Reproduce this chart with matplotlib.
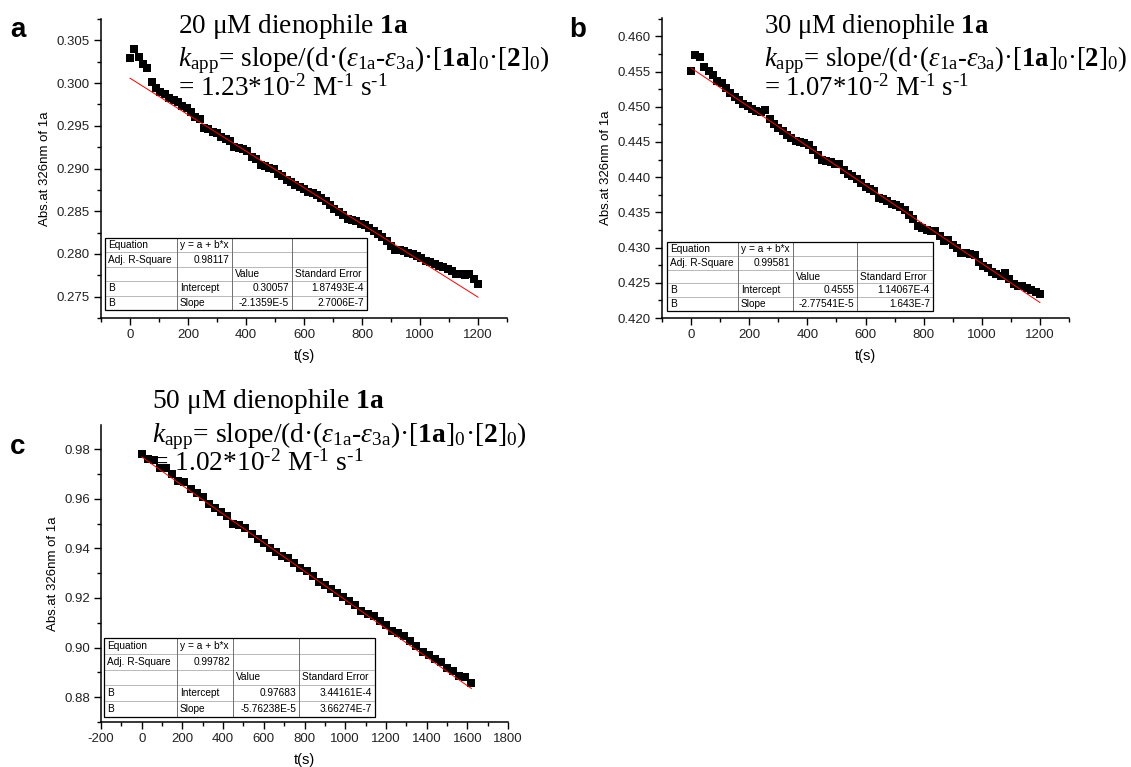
import numpy as np
import matplotlib
matplotlib.use("Agg")
import matplotlib.pyplot as plt
from matplotlib.patches import Rectangle
from matplotlib.ticker import MultipleLocator, FormatStrFormatter

plt.rcParams['font.family'] = ['Liberation Sans', 'DejaVu Sans']
plt.rcParams['axes.unicode_minus'] = False
plt.rcParams['mathtext.fontset'] = 'custom'
plt.rcParams['mathtext.rm'] = 'Liberation Serif'
plt.rcParams['mathtext.it'] = 'Liberation Serif:italic'
plt.rcParams['mathtext.bf'] = 'Liberation Serif:bold'

# ---- data ----
time_a = np.arange(0, 1201, 15)
abs_a = [0.3029, 0.3040, 0.3031, 0.3022, 0.3018, 0.3001, 0.2994, 0.2990, 0.2987, 0.2982,
         0.2980, 0.2978, 0.2973, 0.2971, 0.2966, 0.2960, 0.2958, 0.2947, 0.2946, 0.2943,
         0.2941, 0.2937, 0.2935, 0.2932, 0.2925, 0.2924, 0.2923, 0.2920, 0.2913, 0.2911,
         0.2904, 0.2903, 0.2901, 0.2899, 0.2893, 0.2891, 0.2887, 0.2884, 0.2881, 0.2878,
         0.2876, 0.2873, 0.2871, 0.2869, 0.2866, 0.2862, 0.2857, 0.2853, 0.2849, 0.2846,
         0.2841, 0.2840, 0.2838, 0.2835, 0.2834, 0.2830, 0.2827, 0.2823, 0.2820, 0.2815,
         0.2809, 0.2805, 0.2805, 0.2804, 0.2801, 0.2800, 0.2798, 0.2795, 0.2792, 0.2790,
         0.2788, 0.2786, 0.2785, 0.2782, 0.2780, 0.2777, 0.2776, 0.2775, 0.2777, 0.2771,
         0.2765]

time_b = np.arange(0, 1201, 15)
abs_b = [0.4551, 0.4574, 0.4570, 0.4557, 0.4551, 0.4545, 0.4537, 0.4533, 0.4527, 0.4519,
         0.4514, 0.4510, 0.4504, 0.4501, 0.4497, 0.4494, 0.4493, 0.4495, 0.4483, 0.4476,
         0.4470, 0.4465, 0.4460, 0.4455, 0.4452, 0.4450, 0.4448, 0.4445, 0.4439, 0.4431,
         0.4425, 0.4423, 0.4421, 0.4419, 0.4418, 0.4410, 0.4405, 0.4402, 0.4397, 0.4391,
         0.4386, 0.4383, 0.4380, 0.4370, 0.4369, 0.4366, 0.4362, 0.4360, 0.4358, 0.4353,
         0.4346, 0.4340, 0.4330, 0.4328, 0.4325, 0.4323, 0.4323, 0.4316, 0.4310, 0.4311,
         0.4304, 0.4299, 0.4293, 0.4292, 0.4291, 0.4290, 0.4280, 0.4274, 0.4271, 0.4265,
         0.4262, 0.4259, 0.4264, 0.4255, 0.4248, 0.4246, 0.4245, 0.4242, 0.4240, 0.4237,
         0.4234]

time_c = np.arange(0, 1621, 30)
abs_c = [0.9780, 0.9761, 0.9757, 0.9725, 0.9724, 0.9700, 0.9672, 0.9668, 0.9640, 0.9622,
         0.9605, 0.9580, 0.9562, 0.9547, 0.9531, 0.9500, 0.9494, 0.9480, 0.9458, 0.9436,
         0.9423, 0.9403, 0.9386, 0.9370, 0.9362, 0.9340, 0.9322, 0.9307, 0.9289, 0.9265,
         0.9253, 0.9235, 0.9218, 0.9205, 0.9187, 0.9170, 0.9148, 0.9135, 0.9127, 0.9108,
         0.9090, 0.9065, 0.9060, 0.9045, 0.9025, 0.9005, 0.8983, 0.8970, 0.8955, 0.8940,
         0.8918, 0.8906, 0.8885, 0.8882, 0.8858]

# linear fit results (intercept, slope) from the tables
fit_a = (0.30057, -2.1359e-5)
fit_b = (0.4555, -2.77541e-5)
fit_c = (0.97683, -5.76238e-5)

table_a = [["Equation", "y = a + b*x", "", ""],
           ["Adj. R-Square", "0.98117", "", ""],
           ["", "", "Value", "Standard Error"],
           ["B", "Intercept", "0.30057", "1.87493E-4"],
           ["B", "Slope", "-2.1359E-5", "2.7006E-7"]]
table_b = [["Equation", "y = a + b*x", "", ""],
           ["Adj. R-Square", "0.99581", "", ""],
           ["", "", "Value", "Standard Error"],
           ["B", "Intercept", "0.4555", "1.14067E-4"],
           ["B", "Slope", "-2.77541E-5", "1.643E-7"]]
table_c = [["Equation", "y = a + b*x", "", ""],
           ["Adj. R-Square", "0.99782", "", ""],
           ["", "", "Value", "Standard Error"],
           ["B", "Intercept", "0.97683", "3.44161E-4"],
           ["B", "Slope", "-5.76238E-5", "3.66274E-7"]]
cell_align = [["l", "l", "l", "l"],
              ["l", "r", "l", "l"],
              ["l", "l", "l", "l"],
              ["l", "l", "r", "r"],
              ["l", "l", "r", "r"]]

W, H = 1131, 767
fig = plt.figure(figsize=(W / 100, H / 100), dpi=100)


def add_panel(left, top, right, bottom):
    return fig.add_axes([left / W, 1 - bottom / H, (right - left) / W, (bottom - top) / H])


def style_axes(ax, xlim, ylim, xmaj, ymaj, yfmt):
    ax.set_xlim(*xlim)
    ax.set_ylim(*ylim)
    ax.xaxis.set_major_locator(MultipleLocator(xmaj))
    ax.xaxis.set_minor_locator(MultipleLocator(xmaj / 2))
    ax.yaxis.set_major_locator(MultipleLocator(ymaj))
    ax.yaxis.set_minor_locator(MultipleLocator(ymaj / 2))
    ax.yaxis.set_major_formatter(FormatStrFormatter(yfmt))
    for s in ['top', 'right']:
        ax.spines[s].set_visible(False)
    for s in ['left', 'bottom']:
        ax.spines[s].set_linewidth(1.1)
    ax.tick_params(which='major', direction='out', length=5, width=1.0, labelsize=9.5,
                   pad=3, labelcolor='#222222')
    ax.tick_params(which='minor', direction='out', length=3, width=1.0)
    ax.set_xlabel("t(s)", fontsize=10.5, labelpad=6)
    ax.set_ylabel("Abs.at 326nm of 1a", fontsize=9.5, labelpad=4)


def plot_data(ax, t, y, fit):
    ax.plot(t, y, 's', color='black', markersize=5.3, markeredgewidth=0)
    tt = np.array([t[0], t[-1]])
    ax.plot(tt, fit[0] + fit[1] * tt, color='red', linewidth=0.7)


ax_a = add_panel(101, 19, 507, 318)
plot_data(ax_a, time_a, abs_a, fit_a)
style_axes(ax_a, (-100, 1300), (0.2725, 0.3075), 200, 0.005, '%.3f')

ax_b = add_panel(662, 18, 1069, 318)
plot_data(ax_b, time_b, abs_b, fit_b)
style_axes(ax_b, (-100, 1300), (0.420, 0.4626), 200, 0.005, '%.3f')

ax_c = add_panel(101, 425, 508, 722)
plot_data(ax_c, time_c, abs_c, fit_c)
style_axes(ax_c, (-200, 1800), (0.870, 0.9897), 200, 0.02, '%.2f')

# overlay in pixel coordinates for tables and annotations
ov = fig.add_axes([0, 0, 1, 1])
ov.set_xlim(0, W)
ov.set_ylim(H, 0)
ov.axis('off')


def draw_table(rows, edges, top, bottom):
    left, right = edges[0], edges[-1]
    nr = len(rows)
    rh = (bottom - top) / nr
    ov.add_patch(Rectangle((left, top), right - left, bottom - top, facecolor='white',
                           edgecolor='none', zorder=4))
    for i in range(1, nr):
        ov.plot([left, right], [top + i * rh] * 2, color='#b8b8b8', lw=0.7, zorder=5)
    for x in edges[1:-1]:
        ov.plot([x, x], [top, bottom], color='#707070', lw=0.7, zorder=5)
    ov.add_patch(Rectangle((left, top), right - left, bottom - top, facecolor='none',
                           edgecolor='black', lw=0.9, zorder=6))
    for i, row in enumerate(rows):
        yc = top + (i + 0.5) * rh
        for j, txt in enumerate(row):
            if cell_align[i][j] == 'r':
                ov.text(edges[j + 1] - 3, yc, txt, ha='right', va='center', fontsize=7.3, zorder=7)
            else:
                ov.text(edges[j] + 3, yc, txt, ha='left', va='center', fontsize=7.3, zorder=7)


draw_table(table_a, [105, 177, 232, 292, 367], 238, 310)
draw_table(table_b, [667, 738, 793, 857, 933], 242, 311)
draw_table(table_c, [104, 177, 233, 299, 375], 638, 717)

# panel letters
for lbl, x, y in [("a", 18, 30), ("b", 578, 30), ("c", 18, 447)]:
    ov.text(x, y, lbl, fontsize=20, fontweight='bold', ha='center', va='center')

HY = "\u2010"  # plain hyphen inside the superscripts


def annotate(x, y0, conc, k, size, gap1, gap2):
    kw = dict(fontsize=size, family='Liberation Serif', ha='left', va='baseline')
    ov.text(x, y0, conc + " μM dienophile $\\mathbf{1a}$", **kw)
    ov.text(x, y0 + gap1, r"$k_{\mathrm{app}}$= slope/(d·($\mathit{ε}_{\mathrm{1a}}$-$\mathit{ε}_{\mathrm{3a}}$)"
                          r"·[$\mathbf{1a}$]$_{0}$·[$\mathbf{2}$]$_{0}$)", **kw)
    ov.text(x, y0 + gap2, "= " + k + "*10$^{" + HY + "2}$ M$^{" + HY + "1}$ s$^{" + HY + "1}$", **kw)


annotate(178, 33, "20", "1.23", 19.6, 33, 63)
annotate(764, 33, "30", "1.07", 19.2, 33, 63)
annotate(152, 408, "50", "1.02", 19.8, 34, 63)

fig.savefig("out.png", dpi=100)
